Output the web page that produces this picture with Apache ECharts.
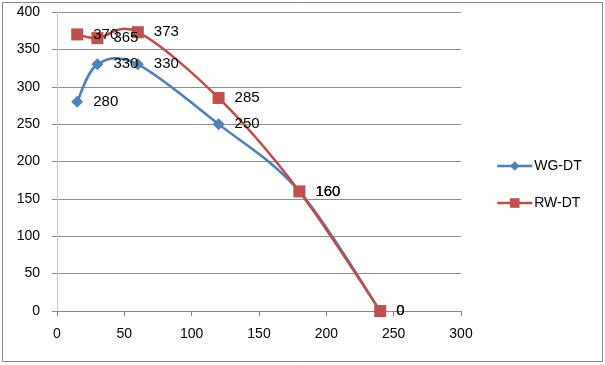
<!DOCTYPE html>
<html><head><meta charset="utf-8">
<script src="https://cdn.jsdelivr.net/npm/echarts@6/dist/echarts.min.js"></script>
<style>html,body{margin:0;padding:0;background:#fff}#c{width:605px;height:365px}</style>
</head><body><div id="c"></div>
<script>
const xValues = [15, 30, 60, 120, 180, 240];
const wgDT = [280, 330, 330, 250, 160, 0];
const rwDT = [370, 365, 373, 285, 160, 0];
const seriesNames = ['WG-DT', 'RW-DT'];
const xTicks = [0, 50, 100, 150, 200, 250, 300];
const yTicks = [0, 50, 100, 150, 200, 250, 300, 350, 400];

const pairs = (xs, ys) => xs.map((x, i) => [x, ys[i]]);
const font = 'Liberation Sans, Arial, sans-serif';
const BLUE = '#4A7EBB', RED = '#BE4B48';

// Excel-like smoothed line (Catmull-Rom Bezier) drawn through the chart's own scales
function smoothCurve(data, color, z) {
  return {
    type: 'custom', data: data, z: z, silent: true,
    renderItem: function (params, api) {
      if (params.dataIndex !== 0) return null;
      const p = data.map(d => api.coord(d));
      const n = p.length;
      const children = [];
      for (let i = 0; i < n - 1; i++) {
        const p0 = p[Math.max(i - 1, 0)], p1 = p[i], p2 = p[i + 1], p3 = p[Math.min(i + 2, n - 1)];
        children.push({
          type: 'bezierCurve',
          shape: {
            x1: p1[0], y1: p1[1], x2: p2[0], y2: p2[1],
            cpx1: p1[0] + (p2[0] - p0[0]) / 6, cpy1: p1[1] + (p2[1] - p0[1]) / 6,
            cpx2: p2[0] - (p3[0] - p1[0]) / 6, cpy2: p2[1] - (p3[1] - p1[1]) / 6
          },
          style: {stroke: color, lineWidth: 2.5, fill: null, lineCap: 'round'}
        });
      }
      return {type: 'group', children: children};
    }
  };
}

const labelCfg = {show: true, position: 'right', distance: 10, fontFamily: font, fontSize: 15, color: '#000'};
const chart = echarts.init(document.getElementById('c'), null, {renderer: 'canvas'});
chart.setOption({
  animation: false,
  backgroundColor: '#fff',
  graphic: [{type: 'rect', shape: {x: 2.5, y: 2.5, width: 600, height: 359}, style: {fill: 'none', stroke: '#8a8a8a', lineWidth: 1}, silent: true}],
  grid: {left: 57, right: 144, top: 12, bottom: 54},
  legend: {
    orient: 'vertical', left: 496, top: 159, padding: 0, itemGap: 23, itemWidth: 35, itemHeight: 12,
    textStyle: {fontFamily: font, fontSize: 14, color: '#000', padding: [0, 0, 0, -3]},
    data: [
      {name: seriesNames[0], lineStyle: {color: BLUE, width: 2.5, opacity: 1}},
      {name: seriesNames[1], lineStyle: {color: RED, width: 2.5, opacity: 1}}
    ]
  },
  xAxis: {
    type: 'value', min: xTicks[0], max: xTicks[xTicks.length - 1], interval: 50,
    axisLine: {show: true, lineStyle: {color: '#868686'}},
    axisTick: {show: true, length: 5, lineStyle: {color: '#868686'}},
    axisLabel: {fontFamily: font, fontSize: 14, color: '#000', margin: 16},
    splitLine: {show: false}
  },
  yAxis: {
    type: 'value', min: yTicks[0], max: yTicks[yTicks.length - 1], interval: 50,
    axisLine: {show: true, lineStyle: {color: '#c8c8c8'}},
    axisTick: {show: true, length: 5, lineStyle: {color: '#868686'}},
    axisLabel: {fontFamily: font, fontSize: 14, color: '#000', margin: 17},
    splitLine: {show: true, lineStyle: {color: '#8c8c8c', width: 1}}
  },
  series: [
    smoothCurve(pairs(xValues, wgDT), BLUE, 2),
    smoothCurve(pairs(xValues, rwDT), RED, 3),
    {
      name: seriesNames[0], type: 'line', data: pairs(xValues, wgDT),
      symbol: 'diamond', symbolSize: 12,
      lineStyle: {color: BLUE, width: 2.5, opacity: 0},
      itemStyle: {color: '#4F81BD'},
      label: labelCfg, z: 4
    },
    {
      name: seriesNames[1], type: 'line', data: pairs(xValues, rwDT),
      symbol: 'rect', symbolSize: 12,
      lineStyle: {color: RED, width: 2.5, opacity: 0},
      itemStyle: {color: '#C0504D'},
      label: labelCfg, z: 5
    }
  ]
});
</script></body></html>
